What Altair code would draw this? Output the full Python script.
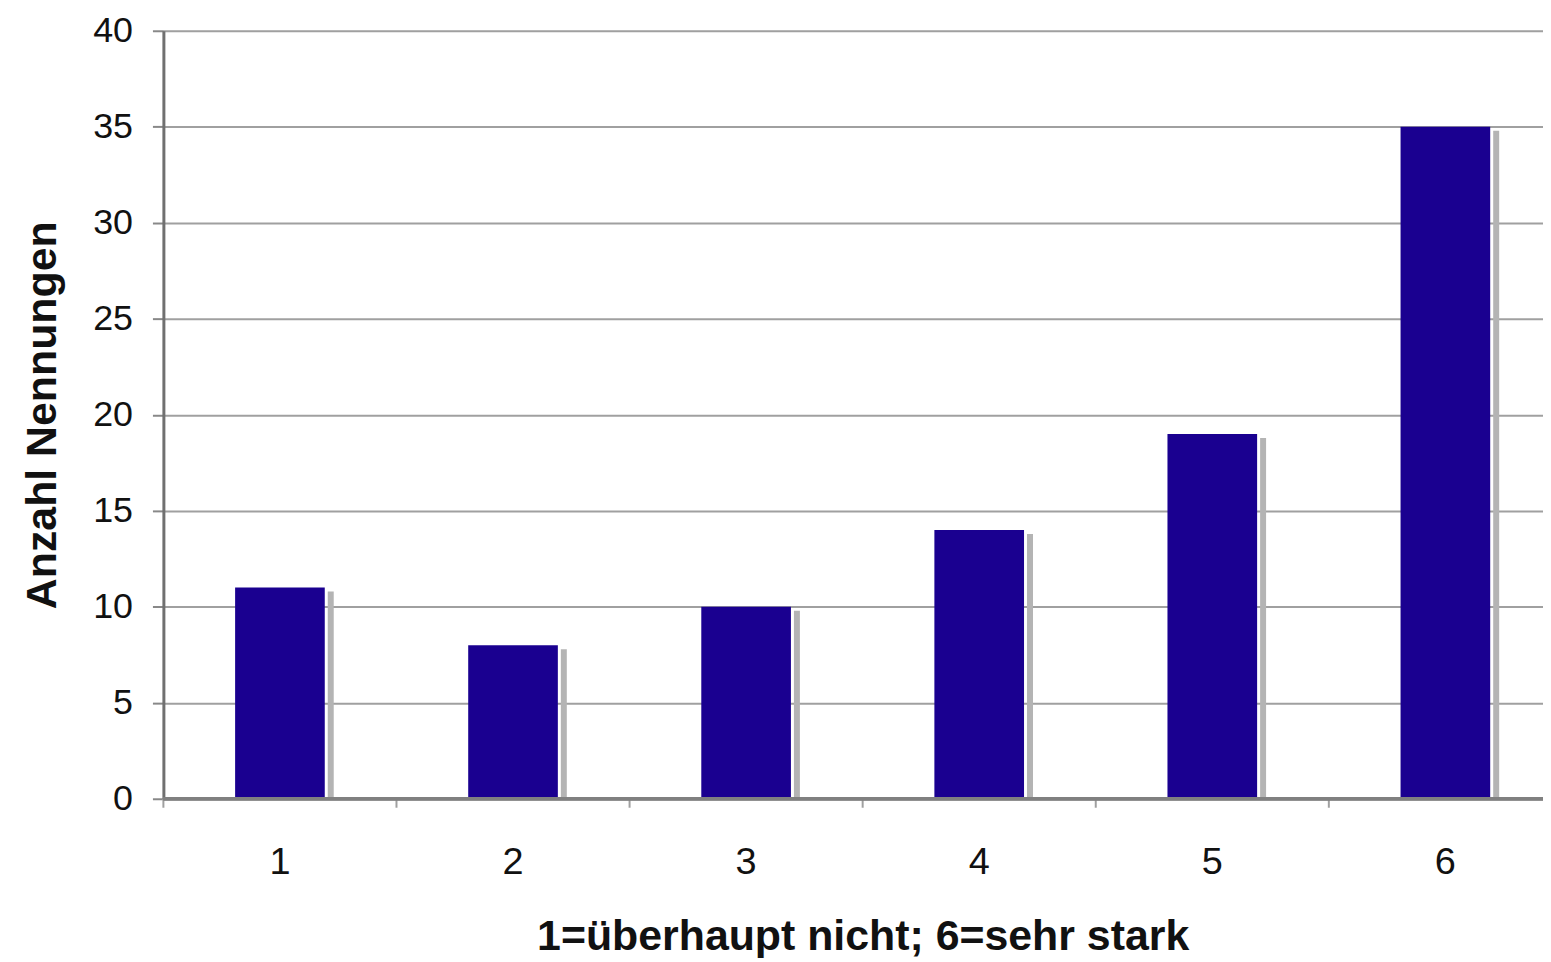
import altair as alt
import pandas as pd

categories = ["1", "2", "3", "4", "5", "6"]
values = [11, 8, 10, 14, 19, 35]

df = pd.DataFrame({"cat": categories, "n": values})

W = 1385
H = 771
STEP = 234

xscale = alt.Scale(domain=categories, range=[0, STEP * 6], paddingInner=0.615, paddingOuter=0.3075)
yscale = alt.Scale(domain=[0, 40], nice=False)

xaxis = alt.Axis(
    title="1=überhaupt nicht; 6=sehr stark",
    titleFont="Liberation Sans",
    titleFontSize=43,
    titleFontWeight="bold",
    titleColor="#111111",
    titlePadding=34,
    titleX=STEP * 3,
    labelAngle=0,
    labelFont="Liberation Sans",
    labelFontSize=38,
    labelColor="#111111",
    labelPadding=45,
    ticks=False,
    domain=False,
    grid=False,
)

yaxis = alt.Axis(
    title="Anzahl Nennungen",
    titleFont="Liberation Sans",
    titleFontSize=43,
    titleFontWeight="bold",
    titleColor="#111111",
    titlePadding=28,
    values=list(range(0, 41, 5)),
    labelFont="Liberation Sans",
    labelFontSize=36,
    labelColor="#111111",
    labelPadding=20,
    tickSize=11,
    tickColor="#888888",
    tickWidth=2,
    domainColor="#707070",
    domainWidth=3,
    grid=True,
    gridColor="#a0a0a0",
    gridWidth=2,
)

X = alt.X("cat:N", scale=xscale, axis=xaxis)
Y = alt.Y("n:Q", scale=yscale, axis=yaxis)

base = alt.Chart(df)

bars = base.mark_bar(size=90, color="#1a0090").encode(x=X, y=Y)

shadow = base.mark_bar(size=6, color="#b4b4b4", xOffset=51, yOffset=4, y2Offset=0).encode(
    x=X,
    y=Y,
    y2=alt.datum(0),
)

xticks = base.mark_rule(color="#a0a0a0", strokeWidth=2, xOffset=-STEP / 2).encode(
    x=X,
    y=alt.value(H),
    y2=alt.value(H + 9),
)

baseline = base.mark_rule(color="#808080", strokeWidth=3).encode(
    y=alt.datum(0, scale=yscale, axis=yaxis),
)

chart = alt.layer(bars, shadow, xticks, baseline).properties(
    width=W,
    height=H,
    autosize=alt.AutoSizeParams(type="none"),
    padding={"left": 156, "top": 21, "right": 0, "bottom": 158},
).configure_view(stroke=None).configure(background="white")

chart.save("out.html", embed_options={"renderer": "svg", "actions": False})
